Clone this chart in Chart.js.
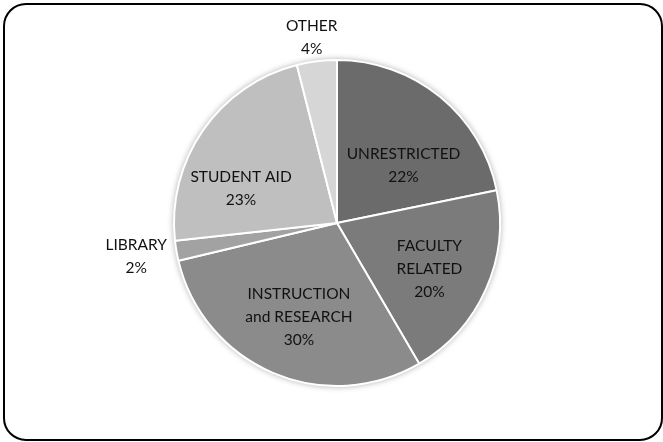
<!DOCTYPE html>
<html>
<head>
<meta charset="utf-8">
<script src="https://cdn.jsdelivr.net/npm/chart.js@4"></script>
<style>
  html, body { margin: 0; padding: 0; background: #ffffff; }
  #wrap { width: 663px; height: 442px; position: relative; }
</style>
</head>
<body>
<div id="wrap"><canvas id="c" width="663" height="442"></canvas></div>
<script>
const categories = ["UNRESTRICTED", "FACULTY RELATED", "INSTRUCTION and RESEARCH", "LIBRARY", "STUDENT AID", "OTHER"];
const labelLines = [["UNRESTRICTED"], ["FACULTY", "RELATED"], ["INSTRUCTION", "and RESEARCH"], ["LIBRARY"], ["STUDENT AID"], ["OTHER"]];
const shares = [22, 20, 30, 2, 23, 4];
const sliceColors = ["#6b6b6b", "#7b7b7b", "#8b8b8b", "#a2a2a2", "#bfbfbf", "#d6d6d6"];

// label placement relative to each arc (radius factor, pixel nudge)
const labelPlace = [
  { r: 0.5, dx: 15, dy: 6 },
  { r: 0.5, dx: 18, dy: 13 },
  { r: 0.5, dx: -6, dy: 19 },
  { r: 1.25, dx: 0, dy: -1 },
  { r: 0.5, dx: -29, dy: 12 },
  { r: 1.25, dx: 0, dy: 17 }
];

const framePlugin = {
  id: 'frame',
  beforeDraw(chart) {
    const ctx = chart.ctx;
    ctx.save();
    ctx.fillStyle = '#ffffff';
    ctx.fillRect(0, 0, chart.width, chart.height);
    const x = 4, y = 4, w = 658, h = 436, r = 22;
    ctx.beginPath();
    ctx.moveTo(x + r, y);
    ctx.lineTo(x + w - r, y);
    ctx.arcTo(x + w, y, x + w, y + r, r);
    ctx.lineTo(x + w, y + h - r);
    ctx.arcTo(x + w, y + h, x + w - r, y + h, r);
    ctx.lineTo(x + r, y + h);
    ctx.arcTo(x, y + h, x, y + h - r, r);
    ctx.lineTo(x, y + r);
    ctx.arcTo(x, y, x + r, y, r);
    ctx.closePath();
    ctx.lineWidth = 2;
    ctx.strokeStyle = '#000000';
    ctx.stroke();
    ctx.restore();
  },
  beforeDatasetsDraw(chart) {
    const arc = chart.getDatasetMeta(0).data[0];
    if (!arc) return;
    const ctx = chart.ctx;
    ctx.save();
    ctx.beginPath();
    ctx.arc(arc.x, arc.y, arc.outerRadius + 0.5, 0, Math.PI * 2);
    ctx.shadowColor = 'rgba(0,0,0,0.35)';
    ctx.shadowBlur = 6;
    ctx.fillStyle = '#dddddd';
    ctx.fill();
    ctx.restore();
  }
};

const labelPlugin = {
  id: 'sliceLabels',
  afterDatasetsDraw(chart) {
    const meta = chart.getDatasetMeta(0);
    const ctx = chart.ctx;
    ctx.save();
    ctx.font = '15.5px Lato, "Open Sans", sans-serif';
    ctx.fillStyle = '#111111';
    ctx.textAlign = 'center';
    ctx.textBaseline = 'middle';
    const lineH = 23;
    meta.data.forEach((arc, i) => {
      const p = labelPlace[i];
      const mid = (arc.startAngle + arc.endAngle) / 2;
      const rr = arc.outerRadius * p.r;
      const cx = arc.x + Math.cos(mid) * rr + p.dx;
      const cy = arc.y + Math.sin(mid) * rr + p.dy;
      const lines = labelLines[i].concat([shares[i] + '%']);
      const top = cy - (lines.length - 1) * lineH / 2;
      lines.forEach((t, k) => ctx.fillText(t, cx, top + k * lineH));
    });
    ctx.restore();
  }
};

new Chart(document.getElementById('c'), {
  type: 'pie',
  data: {
    labels: categories,
    datasets: [{
      data: shares,
      backgroundColor: sliceColors,
      borderColor: '#ffffff',
      borderWidth: 2
    }]
  },
  options: {
    responsive: false,
    animation: false,
    radius: 163,
    layout: { padding: { left: 11, right: 0, top: 4, bottom: 0 } },
    plugins: { legend: { display: false }, tooltip: { enabled: false } }
  },
  plugins: [framePlugin, labelPlugin]
});
</script>
</body>
</html>
